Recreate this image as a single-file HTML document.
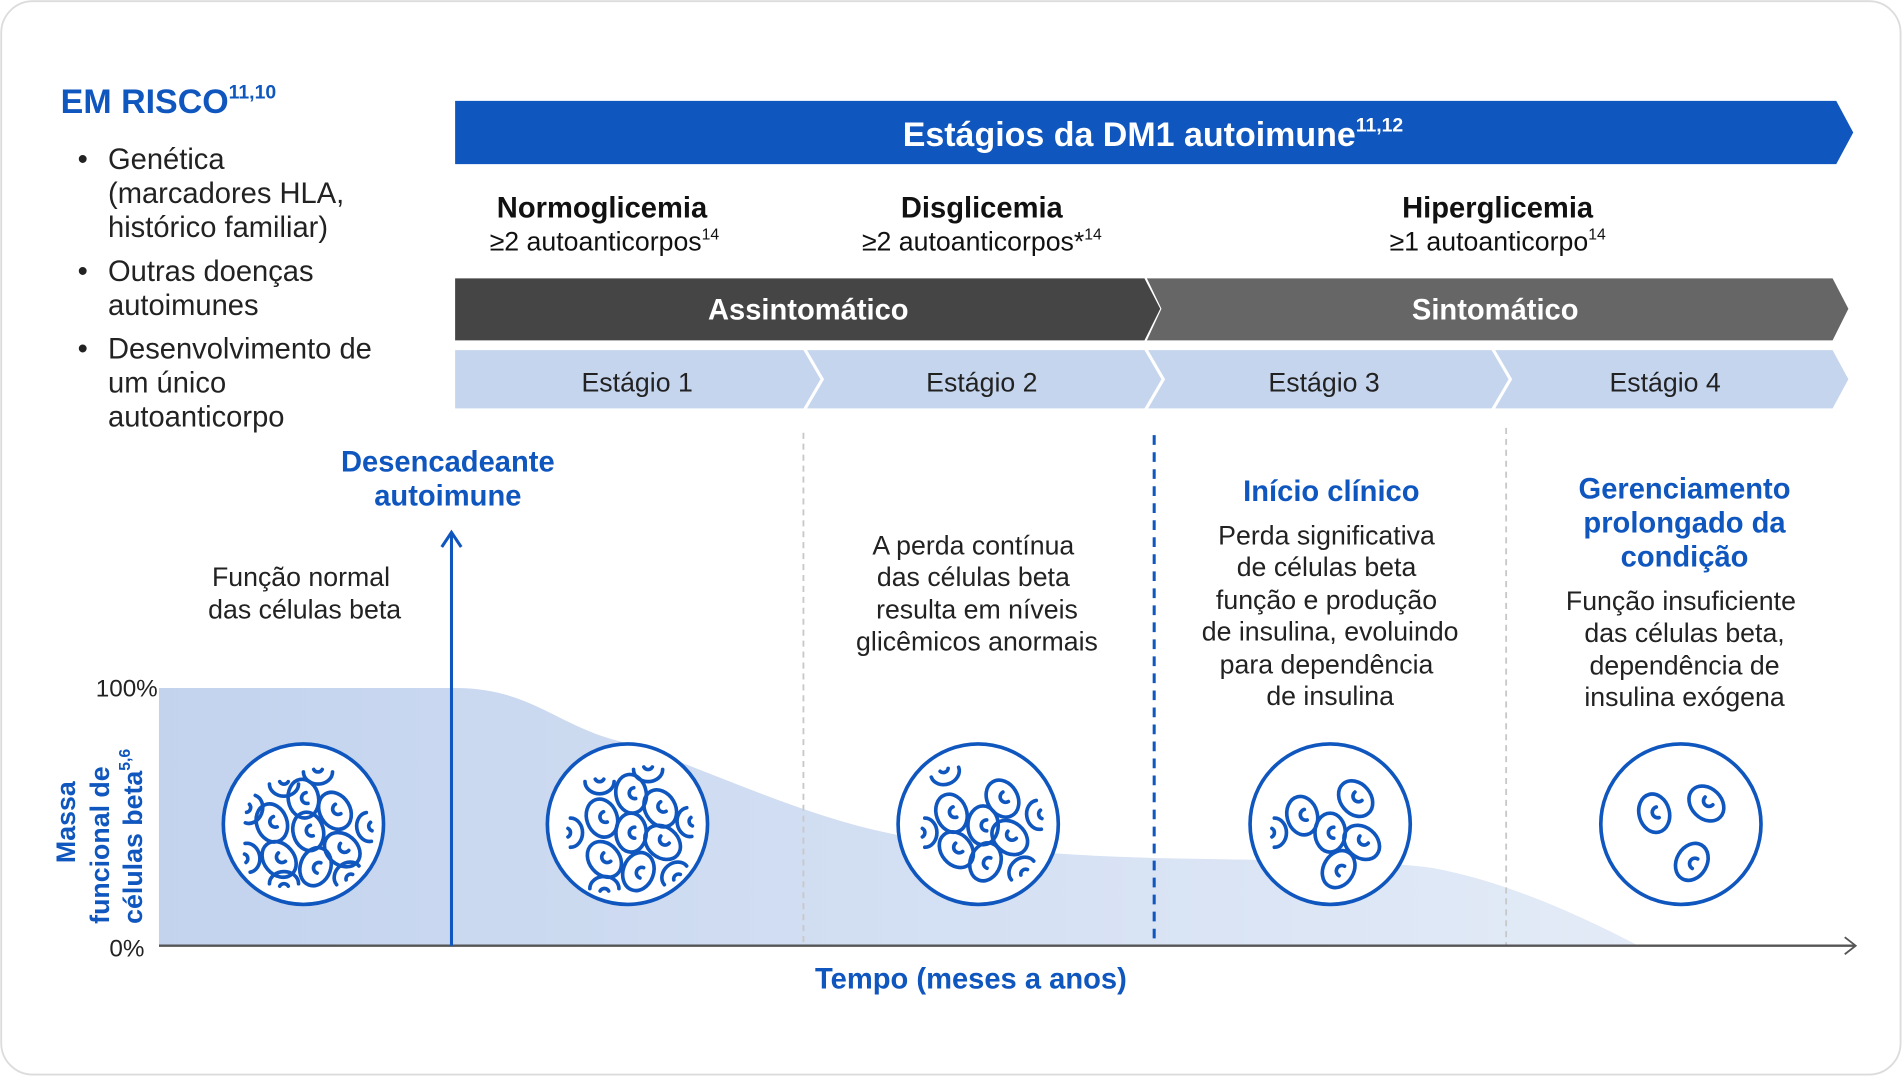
<!DOCTYPE html>
<html><head><meta charset="utf-8"><style>
html,body{margin:0;padding:0;background:#fff;}
svg{display:block;}
text{font-family:"Liberation Sans",sans-serif;}
</style></head><body>
<svg width="1903" height="1077" viewBox="0 0 1568 886" preserveAspectRatio="none" xmlns="http://www.w3.org/2000/svg">
<defs>
<linearGradient id="ag" x1="0" x2="1" y1="0" y2="0">
<stop offset="0" stop-color="#c3d3ee"/><stop offset="1" stop-color="#e3ebf7"/>
</linearGradient>
<symbol id="cell" viewBox="-14 -17 28 34" overflow="visible">
<ellipse cx="0" cy="0" rx="12.5" ry="16" fill="none" stroke="#0f56be" stroke-width="3"/>
<path d="M3,-4.5 A4.5,4.5 0 1 0 3,4.5" fill="none" stroke="#0f56be" stroke-width="3" stroke-linecap="round"/>
</symbol>
<symbol id="arc" viewBox="-14 -17 28 34" overflow="visible">
<path d="M-12,-4 A12,10 0 0 0 12,-4" fill="none" stroke="#0f56be" stroke-width="3" stroke-linecap="round"/>
<path d="M-3.5,-6 A4,4 0 0 0 3.5,-6" fill="none" stroke="#0f56be" stroke-width="3" stroke-linecap="round"/>
</symbol>
</defs>
<rect x="1" y="1" width="1565" height="883" rx="26" fill="#fff" stroke="#dcdcdc" stroke-width="1.5"/>

<text x="50" y="93" font-size="28" font-weight="bold" fill="#0f56be">EM RISCO<tspan font-size="16" dy="-12">11,10</tspan></text>
<g font-size="24" fill="#222">
<text x="64" y="139">•</text><text x="89" y="139">Genética</text>
<text x="89" y="167">(marcadores HLA,</text><text x="89" y="195">histórico familiar)</text>
<text x="64" y="231">•</text><text x="89" y="231">Outras doenças</text><text x="89" y="259">autoimunes</text>
<text x="64" y="295">•</text><text x="89" y="295">Desenvolvimento de</text><text x="89" y="323">um único</text><text x="89" y="351">autoanticorpo</text>
</g>

<polygon points="375,83 1513,83 1527,109 1513,135 375,135" fill="#0f56be"/>
<text x="950" y="120" text-anchor="middle" font-size="28" font-weight="bold" fill="#fff">Estágios da DM1 autoimune<tspan font-size="16" dy="-12">11,12</tspan></text>

<g text-anchor="middle" fill="#111">
<text x="496" y="179" font-size="24" font-weight="bold">Normoglicemia</text>
<text x="498" y="206" font-size="22">≥2 autoanticorpos<tspan font-size="13" dy="-9">14</tspan></text>
<text x="809" y="179" font-size="24" font-weight="bold">Disglicemia</text>
<text x="809" y="206" font-size="22">≥2 autoanticorpos*<tspan font-size="13" dy="-9">14</tspan></text>
<text x="1234" y="179" font-size="24" font-weight="bold">Hiperglicemia</text>
<text x="1234" y="206" font-size="22">≥1 autoanticorpo<tspan font-size="13" dy="-9">14</tspan></text>
</g>

<polygon points="945,229 1510,229 1523,254 1510,280 945,280 957,254" fill="#666"/>
<polygon points="375,229 943,229 956,254 943,280 375,280" fill="#454545"/>
<text x="666" y="263" text-anchor="middle" font-size="24" font-weight="bold" fill="#fff">Assintomático</text>
<text x="1232" y="263" text-anchor="middle" font-size="24" font-weight="bold" fill="#fff">Sintomático</text>

<g fill="#c5d5ee">
<polygon points="375,288 662,288 676,312 662,336 375,336"/>
<polygon points="665,288 943,288 957,312 943,336 665,336 679,312"/>
<polygon points="946,288 1229,288 1243,312 1229,336 946,336 960,312"/>
<polygon points="1232,288 1510,288 1523,312 1510,336 1232,336 1246,312"/>
</g>
<g text-anchor="middle" font-size="22" fill="#222">
<text x="525" y="322">Estágio 1</text><text x="809" y="322">Estágio 2</text>
<text x="1091" y="322">Estágio 3</text><text x="1372" y="322">Estágio 4</text>
</g>

<path d="M131,566 L375,566 C440,566 460,600 520,612 C600,640 680,680 760,690 C830,700 880,704 960,706 C1060,708 1140,708 1180,714 C1240,725 1300,752 1350,778 L131,778 Z" fill="url(#ag)"/>

<line x1="662" y1="356" x2="662" y2="778" stroke="#c8c8c8" stroke-width="1.5" stroke-dasharray="5,4"/>
<line x1="1241" y1="352" x2="1241" y2="778" stroke="#c8c8c8" stroke-width="1.5" stroke-dasharray="5,4"/>
<line x1="951" y1="358" x2="951" y2="778" stroke="#0f56be" stroke-width="2.5" stroke-dasharray="8,6"/>

<line x1="131" y1="778" x2="1528" y2="778" stroke="#555" stroke-width="2"/>
<path d="M1520,771 L1529,778 L1520,785" fill="none" stroke="#555" stroke-width="1.5"/>
<line x1="372" y1="778" x2="372" y2="440" stroke="#0f56be" stroke-width="2.5"/>
<path d="M364,450 L372,438 L380,450" fill="none" stroke="#0f56be" stroke-width="2.5"/>

<text x="130" y="573" text-anchor="end" font-size="20" fill="#222">100%</text>
<text x="119" y="787" text-anchor="end" font-size="20" fill="#222">0%</text>
<g transform="translate(62,760) rotate(-90)" font-size="22" font-weight="bold" fill="#0f56be">
<text x="50" y="0">Massa</text>
<text x="0" y="28">funcional de</text>
<text x="0" y="55">células beta<tspan font-size="13" dy="-10">5,6</tspan></text>
</g>
<text x="800" y="813" text-anchor="middle" font-size="24" font-weight="bold" fill="#0f56be">Tempo (meses a anos)</text>

<g text-anchor="middle" font-size="22" fill="#222">
<text x="369" y="388" font-size="24" font-weight="bold" fill="#0f56be">Desencadeante</text>
<text x="369" y="416" font-size="24" font-weight="bold" fill="#0f56be">autoimune</text>
<text x="248" y="482">Função normal</text><text x="251" y="509">das células beta</text>
<text x="802" y="456">A perda contínua</text><text x="802" y="482">das células beta</text>
<text x="805" y="509">resulta em níveis</text><text x="805" y="535">glicêmicos anormais</text>
<text x="1097" y="412" font-size="24" font-weight="bold" fill="#0f56be">Início clínico</text>
<text x="1093" y="448">Perda significativa</text><text x="1093" y="474">de células beta</text>
<text x="1093" y="501">função e produção</text><text x="1096" y="527">de insulina, evoluindo</text>
<text x="1093" y="554">para dependência</text><text x="1096" y="580">de insulina</text>
<text x="1388" y="410" font-size="24" font-weight="bold" fill="#0f56be">Gerenciamento</text>
<text x="1388" y="438" font-size="24" font-weight="bold" fill="#0f56be">prolongado da</text>
<text x="1388" y="466" font-size="24" font-weight="bold" fill="#0f56be">condição</text>
<text x="1385" y="502">Função insuficiente</text><text x="1388" y="528">das células beta,</text>
<text x="1388" y="555">dependência de</text><text x="1388" y="581">insulina exógena</text>
</g>

<g fill="#fff" stroke="#0f56be" stroke-width="3">
<circle cx="250" cy="678" r="66"/><circle cx="517" cy="678" r="66"/><circle cx="806" cy="678" r="66"/>
<circle cx="1096" cy="678" r="66"/><circle cx="1385" cy="678" r="66"/>
</g>
<g>
<use href="#cell" x="236" y="640" width="28" height="34" transform="rotate(-10 250 657)"/>
<use href="#cell" x="262" y="650" width="28" height="34" transform="rotate(-30 276 667)"/>
<use href="#cell" x="210" y="660" width="28" height="34" transform="rotate(-20 224 677)"/>
<use href="#cell" x="240" y="667" width="28" height="34" transform="rotate(-15 254 684)"/>
<use href="#cell" x="268" y="682" width="28" height="34" transform="rotate(-50 282 699)"/>
<use href="#cell" x="216" y="690" width="28" height="34" transform="rotate(-40 230 707)"/>
<use href="#cell" x="246" y="696" width="28" height="34" transform="rotate(20 260 713)"/>
<use href="#arc" x="220" y="632" width="28" height="34"/>
<use href="#arc" x="248" y="622" width="28" height="34"/>
<use href="#arc" x="196" y="650" width="28" height="34" transform="rotate(-70 210 667)"/>
<use href="#arc" x="194" y="688" width="28" height="34" transform="rotate(-100 208 705)"/>
<use href="#arc" x="286" y="664" width="28" height="34" transform="rotate(80 300 681)"/>
<use href="#arc" x="270" y="700" width="28" height="34" transform="rotate(140 284 717)"/>
<use href="#arc" x="220" y="706" width="28" height="34" transform="rotate(180 234 723)"/>
</g>
<g>
<use href="#cell" x="506" y="636" width="28" height="34" transform="rotate(-10 520 653)"/>
<use href="#cell" x="530" y="648" width="28" height="34" transform="rotate(-30 544 665)"/>
<use href="#cell" x="482" y="656" width="28" height="34" transform="rotate(-20 496 673)"/>
<use href="#cell" x="506" y="668" width="28" height="34"/>
<use href="#cell" x="532" y="676" width="28" height="34" transform="rotate(-50 546 693)"/>
<use href="#cell" x="484" y="690" width="28" height="34" transform="rotate(-40 498 707)"/>
<use href="#cell" x="512" y="700" width="28" height="34" transform="rotate(20 526 717)"/>
<use href="#arc" x="480" y="630" width="28" height="34"/>
<use href="#arc" x="520" y="620" width="28" height="34"/>
<use href="#arc" x="460" y="668" width="28" height="34" transform="rotate(-90 474 685)"/>
<use href="#arc" x="550" y="660" width="28" height="34" transform="rotate(80 564 677)"/>
<use href="#arc" x="540" y="700" width="28" height="34" transform="rotate(140 554 717)"/>
<use href="#arc" x="484" y="710" width="28" height="34" transform="rotate(180 498 727)"/>
</g>
<g>
<use href="#cell" x="812" y="640" width="28" height="34" transform="rotate(-30 826 657)"/>
<use href="#cell" x="770" y="652" width="28" height="34" transform="rotate(-20 784 669)"/>
<use href="#cell" x="796" y="662" width="28" height="34"/>
<use href="#cell" x="818" y="672" width="28" height="34" transform="rotate(-50 832 689)"/>
<use href="#cell" x="774" y="682" width="28" height="34" transform="rotate(-40 788 699)"/>
<use href="#cell" x="798" y="692" width="28" height="34" transform="rotate(20 812 709)"/>
<use href="#arc" x="766" y="622" width="28" height="34" transform="rotate(-20 780 639)"/>
<use href="#arc" x="752" y="668" width="28" height="34" transform="rotate(-90 766 685)"/>
<use href="#arc" x="838" y="654" width="28" height="34" transform="rotate(80 852 671)"/>
<use href="#arc" x="826" y="696" width="28" height="34" transform="rotate(140 840 713)"/>
</g>
<g>
<use href="#cell" x="1059" y="654" width="28" height="34" transform="rotate(-15 1073 671)"/>
<use href="#cell" x="1103" y="640" width="28" height="34" transform="rotate(-40 1117 657)"/>
<use href="#cell" x="1082" y="668" width="28" height="34"/>
<use href="#cell" x="1108" y="676" width="28" height="34" transform="rotate(-50 1122 693)"/>
<use href="#cell" x="1089" y="698" width="28" height="34" transform="rotate(30 1103 715)"/>
<use href="#arc" x="1040" y="668" width="28" height="34" transform="rotate(-90 1054 685)"/>
</g>
<g>
<use href="#cell" x="1349" y="652" width="28" height="34" transform="rotate(-15 1363 669)"/>
<use href="#cell" x="1392" y="644" width="28" height="34" transform="rotate(-45 1406 661)"/>
<use href="#cell" x="1380" y="692" width="28" height="34" transform="rotate(30 1394 709)"/>
</g>
</svg>
</body></html>
